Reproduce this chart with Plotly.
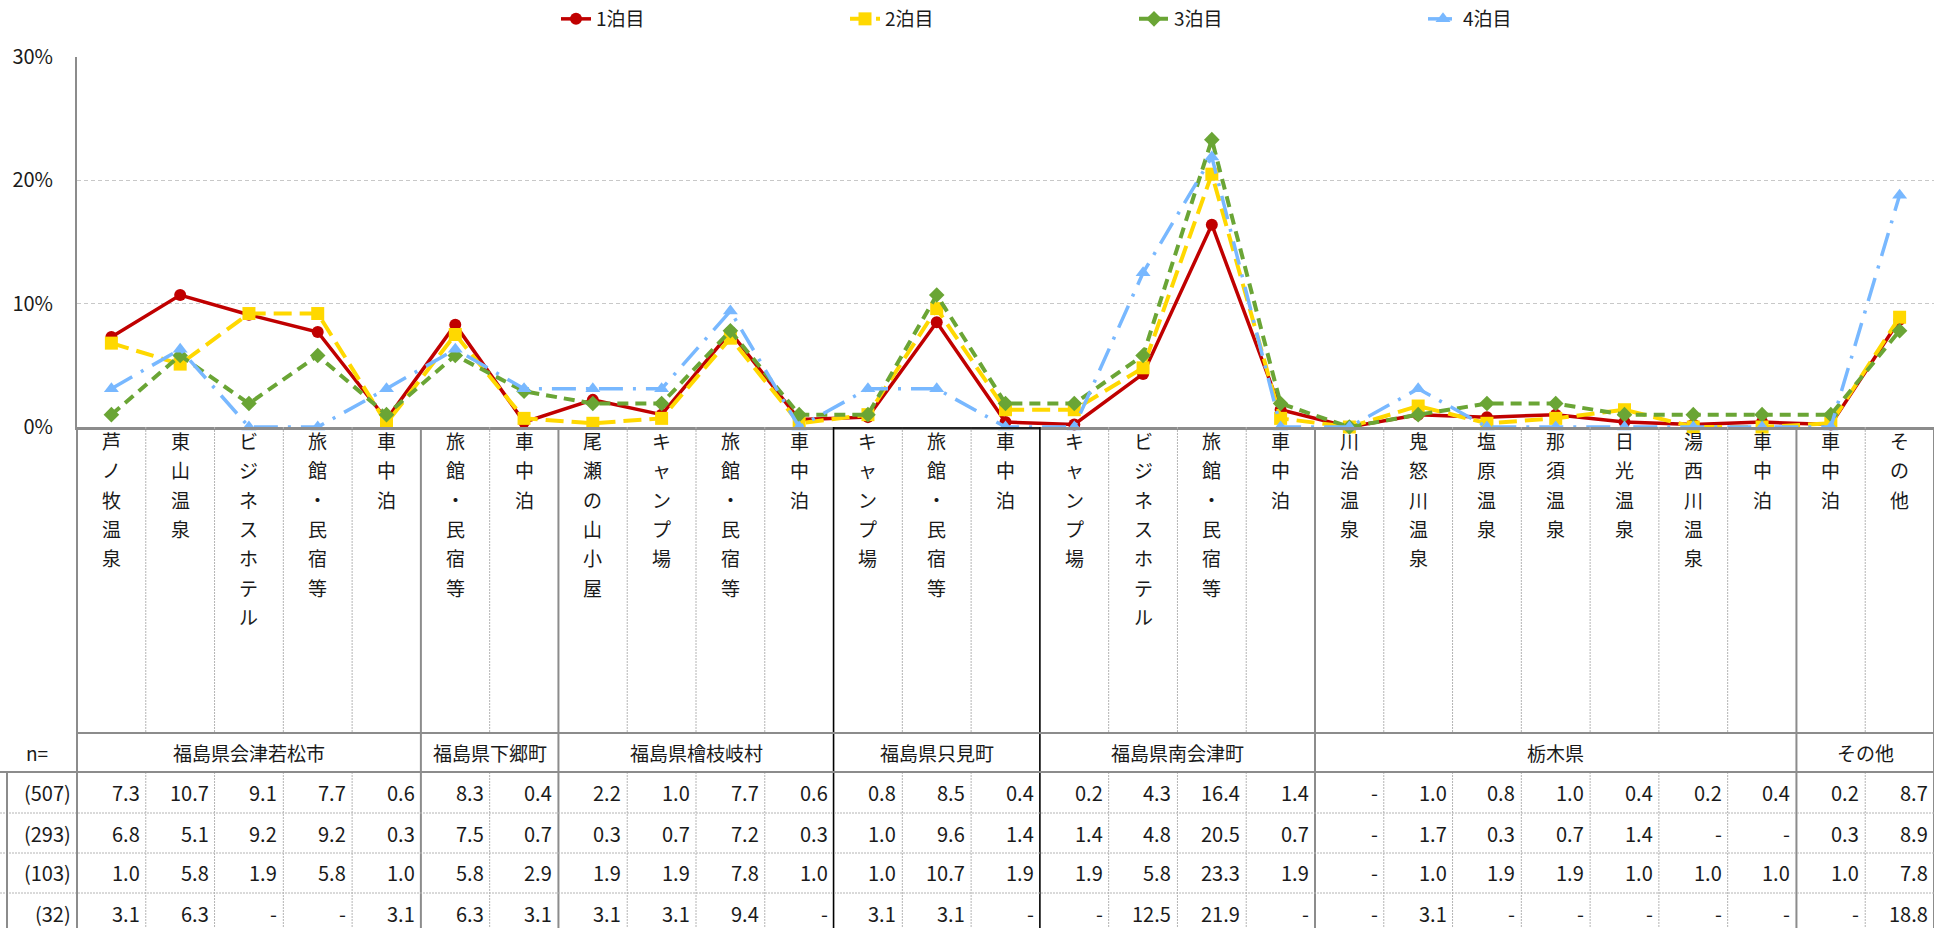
import plotly.graph_objects as go

# ---------------- data ----------------
categories = ["芦ノ牧温泉", "東山温泉", "ビジネスホテル", "旅館・民宿等", "車中泊",
              "旅館・民宿等", "車中泊",
              "尾瀬の山小屋", "キャンプ場", "旅館・民宿等", "車中泊",
              "キャンプ場", "旅館・民宿等", "車中泊",
              "キャンプ場", "ビジネスホテル", "旅館・民宿等", "車中泊",
              "川治温泉", "鬼怒川温泉", "塩原温泉", "那須温泉", "日光温泉", "湯西川温泉", "車中泊",
              "車中泊", "その他"]
groups = ["福島県会津若松市", "福島県下郷町", "福島県檜枝岐村", "福島県只見町",
          "福島県南会津町", "栃木県", "その他"]
group_sizes = [5, 2, 4, 3, 4, 7, 2]
series_names = ["1泊目", "2泊目", "3泊目", "4泊目"]
sample_sizes = ["(507)", "(293)", "(103)", "(32)"]

night1 = [7.3, 10.7, 9.1, 7.7, 0.6, 8.3, 0.4, 2.2, 1.0, 7.7, 0.6, 0.8, 8.5, 0.4,
          0.2, 4.3, 16.4, 1.4, None, 1.0, 0.8, 1.0, 0.4, 0.2, 0.4, 0.2, 8.7]
night2 = [6.8, 5.1, 9.2, 9.2, 0.3, 7.5, 0.7, 0.3, 0.7, 7.2, 0.3, 1.0, 9.6, 1.4,
          1.4, 4.8, 20.5, 0.7, None, 1.7, 0.3, 0.7, 1.4, None, None, 0.3, 8.9]
night3 = [1.0, 5.8, 1.9, 5.8, 1.0, 5.8, 2.9, 1.9, 1.9, 7.8, 1.0, 1.0, 10.7, 1.9,
          1.9, 5.8, 23.3, 1.9, None, 1.0, 1.9, 1.9, 1.0, 1.0, 1.0, 1.0, 7.8]
night4 = [3.1, 6.3, None, None, 3.1, 6.3, 3.1, 3.1, 3.1, 9.4, None, 3.1, 3.1, None,
          None, 12.5, 21.9, None, None, 3.1, None, None, None, None, None, None, 18.8]
series_values = [night1, night2, night3, night4]

y_ticks = [0, 10, 20, 30]
y_tick_text = ["0%", "10%", "20%", "30%"]

# ---------------- styles ----------------
W, H = 1934, 928
L_M = 77
PLOT_TOP, PLOT_BOT = 57, 427
PLOT_W = W - L_M
FONT = "Noto Sans CJK JP"
TXT = "#1a1a1a"
GRAY = "#8c8c8c"
LIGHT = "#b4b4b4"

styles = [
    dict(color="#C00000", dash="solid", symbol="circle", size=12, width=3.5),
    dict(color="#FFD800", dash="18px,8px", symbol="square", size=13, width=4),
    dict(color="#6AA535", dash="11px,7px", symbol="diamond", size=12, width=4),
    dict(color="#78B8FF", dash="24px,10px,3px,10px", symbol="triangle-up", size=13, width=3.5),
]


def py(p):
    """pixel y -> paper y"""
    return (PLOT_BOT - p) / (PLOT_BOT - PLOT_TOP)


def px(p):
    """pixel x -> paper x"""
    return (p - L_M) / PLOT_W


n = len(categories)
xs = list(range(n))

fig = go.Figure()
for name, vals, st in zip(series_names, series_values, styles):
    fig.add_trace(go.Scatter(
        x=xs, y=[0 if v is None else v for v in vals], name=name, mode="lines+markers",
        line=dict(color=st["color"], width=st["width"], dash=st["dash"]),
        marker=dict(symbol=st["symbol"], size=st["size"], color=st["color"]),
        cliponaxis=False,
    ))

shapes = []
annotations = []

CAT_BOT = 733
GRP_BOT = 772
ROW_LINES = [813, 853, 893]
ROW_CENTERS = [792.5, 833, 873, 913]
BOTTOM = 940

# group boundaries
bounds = [0]
for s in group_sizes:
    bounds.append(bounds[-1] + s)
group_bounds = set(bounds)
black_bounds = {bounds[3], bounds[4]}

for b in range(0, n + 1):
    xb = b - 0.5
    if b in black_bounds:
        shapes.append(dict(type="line", xref="x", yref="paper", x0=xb, x1=xb,
                           y0=py(PLOT_BOT), y1=py(BOTTOM), line=dict(color="#000000", width=1.6)))
    elif b in group_bounds:
        shapes.append(dict(type="line", xref="x", yref="paper", x0=xb, x1=xb,
                           y0=py(PLOT_BOT), y1=py(BOTTOM), line=dict(color=GRAY, width=2)))
    else:
        for y0, y1 in [(PLOT_BOT, CAT_BOT), (GRP_BOT, BOTTOM)]:
            shapes.append(dict(type="line", xref="x", yref="paper", x0=xb, x1=xb,
                               y0=py(y0), y1=py(y1),
                               line=dict(color=LIGHT, width=1, dash="2px,1px")))

# horizontal table lines
shapes.append(dict(type="line", xref="paper", yref="paper", x0=0, x1=1,
                   y0=py(CAT_BOT), y1=py(CAT_BOT), line=dict(color=GRAY, width=2)))
shapes.append(dict(type="line", xref="paper", yref="paper", x0=px(0), x1=1,
                   y0=py(GRP_BOT), y1=py(GRP_BOT), line=dict(color=GRAY, width=2)))
for yl in ROW_LINES:
    shapes.append(dict(type="line", xref="paper", yref="paper", x0=px(0), x1=1,
                       y0=py(yl), y1=py(yl), line=dict(color=LIGHT, width=1, dash="2px,1px")))
# left column borders
shapes.append(dict(type="line", xref="paper", yref="paper", x0=px(7), x1=px(7),
                   y0=py(GRP_BOT), y1=py(BOTTOM), line=dict(color=GRAY, width=2)))
shapes.append(dict(type="line", xref="paper", yref="paper", x0=0, x1=0,
                   y0=py(PLOT_BOT), y1=py(BOTTOM), line=dict(color=GRAY, width=2)))
# black top for 只見町 box
shapes.append(dict(type="line", xref="x", yref="paper", x0=bounds[3] - 0.5, x1=bounds[4] - 0.5,
                   y0=py(PLOT_BOT + 1), y1=py(PLOT_BOT + 1), line=dict(color="#000000", width=1.6)))

# vertical category labels
CH_Y0, CH_STEP = 440.5, 29.3
for i, cat in enumerate(categories):
    for k, ch in enumerate(cat):
        annotations.append(dict(x=i, xref="x", y=py(CH_Y0 + k * CH_STEP), yref="paper",
                                text=ch, showarrow=False, xanchor="center", yanchor="middle",
                                font=dict(size=19, color=TXT, family=FONT)))

# group labels
for g, s0, s1 in zip(groups, bounds[:-1], bounds[1:]):
    annotations.append(dict(x=(s0 + s1 - 1) / 2, xref="x", y=py((CAT_BOT + GRP_BOT) / 2), yref="paper",
                            text=g, showarrow=False, xanchor="center", yanchor="middle",
                            font=dict(size=19, color=TXT, family=FONT)))
annotations.append(dict(x=px(37), xref="paper", y=py((CAT_BOT + GRP_BOT) / 2), yref="paper",
                        text="n=", showarrow=False, xanchor="center", yanchor="middle",
                        font=dict(size=19, color=TXT, family=FONT)))

# table values
for r, (vals, ns) in enumerate(zip(series_values, sample_sizes)):
    yc = py(ROW_CENTERS[r])
    annotations.append(dict(x=px(73), xref="paper", y=yc, yref="paper", text=ns,
                            showarrow=False, xanchor="right", yanchor="middle",
                            font=dict(size=20, color=TXT, family=FONT)))
    for i, v in enumerate(vals):
        annotations.append(dict(x=i + 0.5, xref="x", xshift=-4, y=yc, yref="paper",
                                text="-" if v is None else f"{v:.1f}",
                                showarrow=False, xanchor="right", yanchor="middle",
                                font=dict(size=20, color=TXT, family=FONT)))

fig.update_layout(
    width=W, height=H,
    margin=dict(l=L_M, r=0, t=PLOT_TOP, b=H - PLOT_BOT, pad=0),
    paper_bgcolor="white", plot_bgcolor="white",
    font=dict(family=FONT, color=TXT, size=19),
    showlegend=True,
    legend=dict(orientation="h", x=px(556), xanchor="left", y=py(19), yanchor="middle",
                entrywidth=244, entrywidthmode="pixels",
                font=dict(size=19, color=TXT, family=FONT), bgcolor="rgba(0,0,0,0)"),
    xaxis=dict(range=[-0.5, n - 0.5], showticklabels=False, showgrid=False, zeroline=False,
               showline=True, linecolor=GRAY, linewidth=2.5, ticks="", fixedrange=True),
    yaxis=dict(range=[0, 30], tickmode="array", tickvals=y_ticks, ticktext=y_tick_text,
               showgrid=True, gridcolor="#c8c8c8", gridwidth=1, griddash="4px,3px", zeroline=False,
               showline=True, linecolor=GRAY, linewidth=2, ticks="", ticklabelstandoff=18,
               tickfont=dict(size=20, color=TXT, family=FONT), fixedrange=True),
    shapes=shapes, annotations=annotations,
)

fig.write_html("out.html", config={"displayModeBar": False},
               post_script="document.body.style.margin='0';document.body.style.overflow='hidden';")
